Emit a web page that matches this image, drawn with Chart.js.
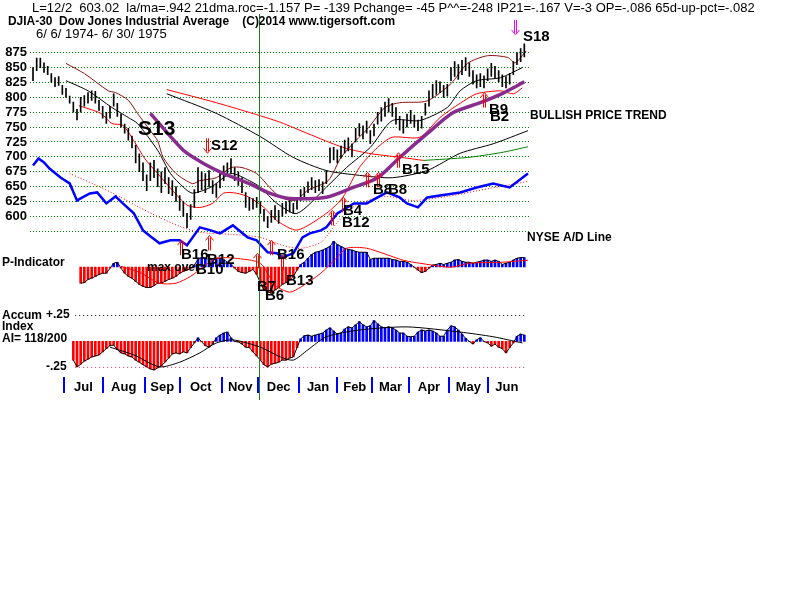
<!DOCTYPE html>
<html>
<head>
<meta charset="utf-8">
<title>DJIA-30 6/6/1974 - 6/30/1975</title>
<script src="https://cdn.jsdelivr.net/npm/chart.js@4.4.1/dist/chart.umd.min.js"></script>
<style>
  html, body { margin: 0; padding: 0; background: #fff; }
</style>
</head>
<body>
<canvas id="djia" width="800" height="600"></canvas>
<script>
// ---------- data ----------
// x = trading day since 6/6/1974, bars sampled every 2nd day
const barDays = Array.from({ length: 135 }, (_, i) => i * 2);

const barLow = [828,845,850,842,838,825,818,820,805,800,790,775,762,775,785,790,795,790,778,765,
  756,765,785,768,750,740,728,715,690,675,660,643,660,665,650,640,655,638,635,625,
  610,600,581,595,615,640,645,640,650,638,632,648,660,668,672,660,652,640,615,610,
  612,615,605,592,581,590,595,588,600,605,607,605,612,627,630,640,645,640,643,638,
  655,690,695,690,698,706,710,700,725,735,730,740,722,735,755,760,768,775,768,755,
  745,740,750,756,750,744,748,770,785,800,805,808,800,802,828,835,830,838,845,835,
  822,816,818,816,828,835,832,826,818,816,822,838,855,860,868];
const barHigh = [850,866,866,858,852,840,833,835,820,815,802,792,780,800,803,808,811,810,795,785,
  775,785,806,790,772,755,748,735,720,705,690,670,690,694,680,675,682,665,660,650,
  635,625,605,620,645,682,675,672,677,660,655,672,685,690,697,682,675,665,640,632,
  630,632,625,612,600,610,618,610,622,625,627,622,628,645,649,658,665,660,662,658,
  677,715,716,712,718,728,732,722,748,756,752,760,744,755,775,783,792,798,790,783,
  768,762,772,778,770,762,768,790,811,822,828,826,820,822,850,860,855,862,867,858,
  845,838,840,836,848,857,852,845,838,835,840,860,875,882,890];

const pIndicator = [null,null,null,null,null,null,null,null,null,null,null,null,null,
  -130,-125,-100,-90,-75,-60,-50,-50,-10,30,
  38,-10,-50,-75,-90,-115,-140,-155,-165,-165,
  -150,-130,-130,-115,-100,-90,-75,-50,-35,-25,
  -10,15,60,75,70,60,55,70,70,60,
  38,20,-10,-35,-45,-50,-35,-20,-60,-125,
  -185,-200,-210,-185,-165,-140,-125,-105,-75,-25,
  20,38,70,100,118,125,135,150,165,205,
  180,165,150,140,135,125,118,118,118,60,
  70,70,70,70,70,60,55,45,45,38,
  20,-2,-25,-45,-35,-10,15,20,30,20,
  30,38,55,60,45,38,38,30,38,45,
  55,55,45,55,45,20,30,38,55,70,75,75];

const accumIndex = [null,null,null,null,null,null,null,null,null,null,null,
  -0.18,-0.245,-0.22,-0.19,-0.17,-0.15,-0.14,-0.13,-0.10,-0.07,
  -0.04,-0.035,-0.08,-0.11,-0.12,-0.14,-0.15,-0.18,-0.20,-0.225,
  -0.245,-0.265,-0.275,-0.255,-0.235,-0.20,-0.16,-0.12,-0.11,-0.12,
  -0.10,-0.11,-0.06,-0.015,0.035,-0.005,-0.04,-0.055,-0.025,0.035,
  0.06,0.08,0.09,0.035,0,-0.005,-0.025,-0.055,-0.06,-0.10,
  -0.14,-0.18,-0.225,-0.245,-0.22,-0.21,-0.20,-0.18,-0.18,-0.16,
  -0.15,-0.06,0.025,0.055,0.06,0.05,0.06,0.07,0.08,0.11,
  0.13,0.10,0.07,0.08,0.12,0.14,0.13,0.16,0.19,0.16,
  0.14,0.15,0.20,0.17,0.14,0.13,0.14,0.13,0.11,0.08,
  0.08,0.05,0.045,0.05,0.09,0.11,0.10,0.11,0.10,0.08,
  0.05,0.05,0.11,0.15,0.14,0.11,0.07,0.03,0,-0.025,
  0.015,0.035,0,-0.015,-0.045,-0.025,-0.055,-0.07,-0.11,-0.06,
  -0.015,0.05,0.07,0.06];

// moving averages / bands (day, value)
const upperBandDays = [18,28,41,45,52,57,64,68,71,78,87,91,100,108,114,122,129,135,143,150,161,168,176,183,192,200,215,228,237,248,259,263,269];
const upperBand     = [857,840,811,808,795,773,744,727,699,672,655,660,665,682,682,672,649,632,627,644,660,699,727,749,783,791,794,823,857,870,867,858,878];
const ma21Days = [18,30,43,52,57,68,75,82,87,97,108,118,124,133,144,160,171,184,196,211,226,233,242,255,267];
const ma21     = [828,811,783,766,756,711,672,649,639,649,672,660,649,622,605,649,682,716,761,761,783,811,828,833,850];
const lowerBandDays = [25,37,43,49,55,61,68,76,84,91,98,104,111,118,126,133,144,160,169,178,188,196,211,222,233,242,255,262,267];
const lowerBand     = [786,773,756,753,727,697,672,644,619,615,622,639,639,632,615,593,577,605,632,682,716,733,733,766,790,806,811,806,816];
const ma65Days = [64,82,93,104,118,129,140,160,175,188,200,215,229,244,255,268];
const ma65     = [773,711,689,672,655,639,630,632,649,665,699,739,774,791,805,826];
const longRedDays   = [73,100,124,135,150,169,183,201,213];
const longRed       = [813,791,769,758,739,716,706,699,694];
const longGreenDays = [213,237,255,270];
const longGreen     = [694,699,707,717];
const longBlackDays = [73,100,124,142,160,178,196,215,233,251,270];
const longBlack     = [806,773,734,699,677,669,665,677,706,722,744];

// NYSE A/D line and its average (relative units)
const adDays = [0,3,6,9,15,20,24,27,31,35,40,45,49,55,60,64,69,75,80,84,91,97,102,109,117,122,128,133,136,142,147,151,157,160,166,175,182,188,193,200,204,210,215,222,233,242,251,260,270];
const adLine = [58.75,60.5,59.5,58,55.75,54.25,50,50.75,51.75,52,49.25,51,49.25,46.75,42.5,41,39.25,40,40,38.75,43.25,42.5,41.75,43.75,40.75,40,37,36.75,35.75,36.75,40.75,41.75,42.5,43.25,46.75,49.25,49.25,50.75,52,50.75,49.25,48.25,50.75,51.25,52,53.25,54.25,53.25,56.75];
const adMaDays = [20,37,48,58,69,80,91,108,124,136,146,157,166,176,192,207,226,249,270];
const adMa     = [56.75,53.25,50.75,48.25,45.75,43.5,42,41.5,40.75,38.75,38,39.5,44.5,48.75,51,50,51,53,54.75];

const pMaDays = [48,58,69,78,86,94,100,110,124,132,140,146,157,166,171,182,202,211,228,238,256,270];
const pMa     = [5,-42,-130,-130,-75,14,70,70,30,-146,-202,-162,-50,78,150,150,54,30,-2,30,38,54];
const aiMaDays = [42,55,69,80,91,100,109,124,135,142,150,160,178,204,233,251,267];
const aiMa     = [-0.055,-0.13,-0.245,-0.20,-0.11,-0.015,0.015,-0.055,-0.15,-0.18,-0.08,0.045,0.11,0.14,0.09,0.045,-0.015];
const aiLevels = [0.25, -0.25];

// signals
const signalNames  = ['S12','B16','B12','B7','B16','B13','B12','B4','B8','B8','B15','B9','S18'];
const signalDays   = [95,81,96,122,130,136,163,169,182,188,199,246,263];
const signalLevels = [706,560,568,538,560,535,610,632,674,674,707,808,905];
const signalDirs   = ['down','up','up','up','up','up','up','up','up','up','up','up','down'];

// months & ticks
const monthNames = ['Jul','Aug','Sep','Oct','Nov','Dec','Jan','Feb','Mar','Apr','May','Jun'];
const monthStarts = [17,38,61,80,103,123,145,166,185,205,227,248];
const lastDay = 269;
const cursorDay = 123.3;   // 12/2/1974
const priceTicks = [575,600,625,650,675,700,725,750,775,800,825,850,875];

// ---------- helpers ----------
const pts = (days, vals) => days.map((d, i) => ({ x: d, y: vals[i] }));
const skipNull = (vals) => barDays.map((d, i) => ({ x: d, y: vals[i] })).filter(p => p.y !== null);

const RED = '#ff0000', BLUE = '#0000ff';
const FONT = '"Liberation Sans", Arial, sans-serif';

const lineDs = (data, color, width, axis, extra) => Object.assign({
  type: 'line', data, borderColor: color, borderWidth: width, pointRadius: 0,
  tension: 0.25, fill: false, yAxisID: axis, order: 4
}, extra || {});

// text layout (label placement on the page)
const texts = [
  { t: 'L=12/2  603.02  la/ma=.942 21dma.roc=-1.157 P= -139 Pchange= -45 P^^=-248 IP21=-.167 V=-3 OP=-.086 65d-up-pct=-.082', x: 32, y: 8, s: 13, w: 740, normal: true },
  { t: 'DJIA-30  Dow Jones Industrial Average    (C)2014 www.tigersoft.com', x: 8, y: 21, s: 13, w: 387 },
  { t: '6/ 6/ 1974- 6/ 30/ 1975', x: 36, y: 34, s: 13, w: 141, normal: true },
  { t: 'S13', x: 138, y: 129, s: 21 },
  { t: 'S12', x: 211, y: 146, s: 15 },
  { t: 'B16', x: 181, y: 255, s: 15 },
  { t: 'B12', x: 207, y: 260, s: 15 },
  { t: 'max over', x: 147, y: 268, s: 12 },
  { t: 'B10', x: 196, y: 270, s: 15 },
  { t: 'B16', x: 277, y: 255, s: 15 },
  { t: 'B7', x: 257, y: 287, s: 15 },
  { t: 'B6', x: 265, y: 296, s: 15 },
  { t: 'B13', x: 286, y: 281, s: 15 },
  { t: 'B4', x: 343, y: 211, s: 15 },
  { t: 'B12', x: 342, y: 223, s: 15 },
  { t: 'B8', x: 373, y: 190, s: 15 },
  { t: 'B8', x: 388, y: 190, s: 15 },
  { t: 'B15', x: 402, y: 170, s: 15 },
  { t: 'B9', x: 489, y: 110, s: 15 },
  { t: 'B2', x: 490, y: 117, s: 15 },
  { t: 'S18', x: 523, y: 37, s: 15 },
  { t: 'BULLISH PRICE TREND', x: 530, y: 116, s: 12 },
  { t: 'NYSE A/D Line', x: 527, y: 238, s: 12 },
  { t: 'P-Indicator', x: 2, y: 263, s: 12 },
  { t: 'Accum', x: 2, y: 316, s: 12 },
  { t: 'Index', x: 2, y: 327, s: 12 },
  { t: 'AI= 118/200', x: 2, y: 339, s: 12 },
  { t: '+.25', x: 46, y: 315, s: 12 },
  { t: '-.25', x: 46, y: 367, s: 12 }
];

function drawArrow(ctx, px, tip, dir, color) {
  const s = dir === 'up' ? 1 : -1;
  px = Math.round(px) + 0.5;
  ctx.strokeStyle = color;
  ctx.lineWidth = 1;
  ctx.beginPath();
  ctx.moveTo(px - 1, tip + 2 * s); ctx.lineTo(px - 1, tip + 15 * s);
  ctx.moveTo(px + 1, tip + 2 * s); ctx.lineTo(px + 1, tip + 15 * s);
  ctx.moveTo(px - 4, tip + 5 * s); ctx.lineTo(px, tip); ctx.lineTo(px + 4, tip + 5 * s);
  ctx.stroke();
}

const overlay = {
  id: 'overlay',
  afterDatasetsDraw(chart) {
    const { ctx, scales: { x, y } } = chart;
    ctx.save();

    // 12/2 cursor line
    const cx = Math.round(x.getPixelForValue(cursorDay)) + 0.5;
    ctx.strokeStyle = '#1f7f1f';
    ctx.lineWidth = 1;
    ctx.beginPath(); ctx.moveTo(cx, 14); ctx.lineTo(cx, 400); ctx.stroke();

    // signal arrows
    signalDays.forEach((d, i) => {
      const col = signalNames[i] === 'S18' ? '#ff00ff' : RED;
      drawArrow(ctx, x.getPixelForValue(d), y.getPixelForValue(signalLevels[i]), signalDirs[i], col);
    });

    // month ticks and labels
    ctx.strokeStyle = BLUE;
    ctx.lineWidth = 2;
    monthStarts.forEach(d => {
      const px = Math.round(x.getPixelForValue(d));
      ctx.beginPath(); ctx.moveTo(px, 377); ctx.lineTo(px, 393); ctx.stroke();
    });
    ctx.fillStyle = '#000';
    ctx.textAlign = 'center';
    ctx.textBaseline = 'middle';
    ctx.font = 'bold 13px ' + FONT;
    monthNames.forEach((m, i) => {
      const next = i + 1 < monthStarts.length ? monthStarts[i + 1] : lastDay;
      ctx.fillText(m, x.getPixelForValue((monthStarts[i] + next) / 2), 387);
    });

    // text labels
    ctx.textAlign = 'left';
    texts.forEach(o => {
      ctx.font = (o.normal ? '' : 'bold ') + o.s + 'px ' + FONT;
      if (o.w) ctx.fillText(o.t, o.x, o.y, o.w);
      else ctx.fillText(o.t, o.x, o.y);
    });
    ctx.restore();
  }
};

// ---------- chart ----------
const ctx = document.getElementById('djia').getContext('2d');

new Chart(ctx, {
  type: 'line',
  data: {
    datasets: [
      lineDs(pts(ma65Days, ma65), '#882d8e', 3.5, 'y', { order: 1 }),
      {
        type: 'bar', data: barDays.map((d, i) => ({ x: d, y: [barLow[i], barHigh[i]] })),
        backgroundColor: '#000', barThickness: 1, grouped: false, yAxisID: 'y', order: 2
      },
      lineDs(pts(upperBandDays, upperBand), '#8b1010', 1, 'y'),
      lineDs(pts(ma21Days, ma21), '#000', 1, 'y'),
      lineDs(pts(lowerBandDays, lowerBand), RED, 1, 'y'),
      lineDs(pts(longRedDays, longRed), RED, 1, 'y'),
      lineDs(pts(longGreenDays, longGreen), '#008000', 1, 'y'),
      lineDs(pts(longBlackDays, longBlack), '#000', 1, 'y'),
      lineDs(pts(adDays, adLine), BLUE, 2.5, 'yAD', { tension: 0, order: 3 }),
      lineDs(pts(adMaDays, adMa), RED, 1, 'yAD', { borderDash: [1, 2] }),
      lineDs(skipNull(pIndicator), '#000', 1, 'yP', { tension: 0, order: 5 }),
      lineDs(pts(pMaDays, pMa), RED, 1, 'yP', { order: 4 }),
      {
        type: 'bar', data: skipNull(pIndicator),
        backgroundColor: c => (c.raw && c.raw.y < 0 ? RED : BLUE),
        barThickness: 2, grouped: false, yAxisID: 'yP', order: 9
      },
      lineDs(skipNull(accumIndex), '#000', 1, 'yAI', { tension: 0, order: 5 }),
      lineDs(pts(aiMaDays, aiMa), '#000', 1, 'yAI', { order: 4 }),
      {
        type: 'bar', data: skipNull(accumIndex),
        backgroundColor: c => (c.raw && c.raw.y < 0 ? RED : BLUE),
        barThickness: 2, grouped: false, yAxisID: 'yAI', order: 9
      },
      lineDs([{ x: 23, y: aiLevels[0] }, { x: lastDay, y: aiLevels[0] }], '#000', 1, 'yAI', { borderDash: [1, 3], tension: 0 }),
      lineDs([{ x: 23, y: aiLevels[1] }, { x: lastDay, y: aiLevels[1] }], '#d02060', 1, 'yAI', { borderDash: [1, 3], tension: 0 })
    ]
  },
  options: {
    responsive: false,
    animation: false,
    events: [],
    layout: { padding: { left: 0, top: 10, right: 270, bottom: 200 } },
    plugins: { legend: { display: false }, tooltip: { enabled: false } },
    scales: {
      x: { type: 'linear', min: -1.64, max: 271.1, offset: false, display: false },
      y: {
        type: 'linear', position: 'left', min: 291.5, max: 945.4,
        afterFit: s => { s.width = 30; },
        afterBuildTicks: s => { s.ticks = priceTicks.map(v => ({ value: v })); },
        ticks: {
          autoSkip: false, padding: 3, color: '#000',
          font: { family: FONT, size: 13, weight: 'bold' },
          callback: v => (v >= 600 ? String(v) : '')
        },
        grid: { color: '#008000', lineWidth: 1, drawTicks: false },
        border: { display: false, dash: [1, 2] }
      },
      yAD: { type: 'linear', axis: 'y', display: false, min: 0, max: 97.5 },
      yP:  { type: 'linear', axis: 'y', display: false, min: -1066.4, max: 2053.6 },
      yAI: { type: 'linear', axis: 'y', display: false, min: -0.5644, max: 3.1856 }
    }
  },
  plugins: [overlay]
});
</script>
</body>
</html>
